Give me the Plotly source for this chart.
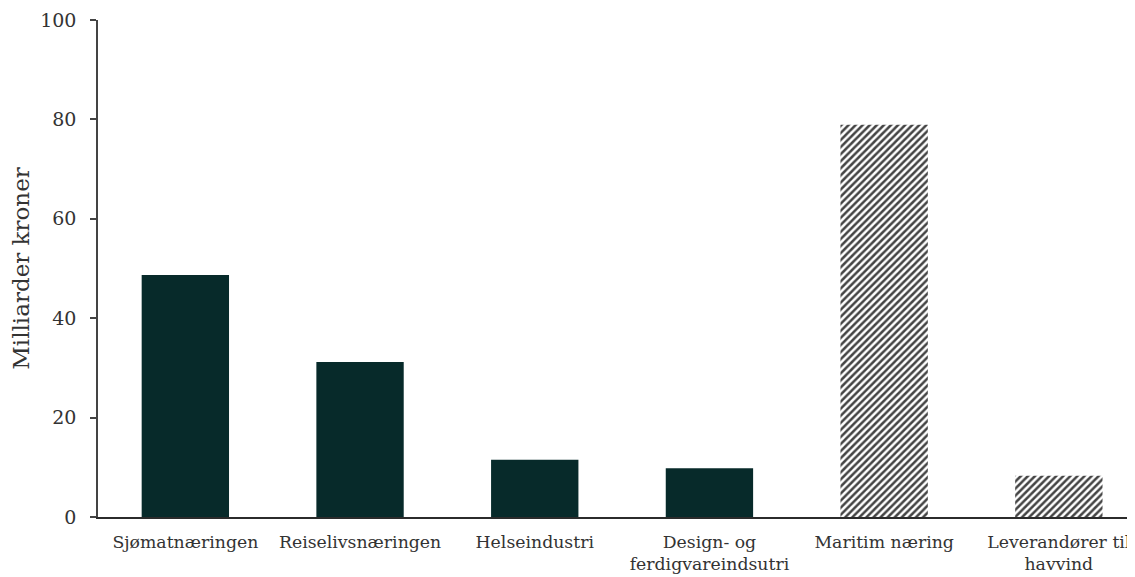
import plotly.graph_objects as go

categories = ["Sjømatnæringen", "Reiselivsnæringen", "Helseindustri",
              "Design- og<br>ferdigvareindsutri", "Maritim næring",
              "Leverandører til<br>havvind"]
values = [48.7, 31.2, 11.5, 9.8, 78.9, 8.3]
hatched = [False, False, False, False, True, True]

dark = "#072a2a"
fig = go.Figure()
fig.add_trace(go.Bar(
    x=list(range(len(categories))),
    y=values,
    width=0.5,
    marker=dict(
        color=["white" if h else dark for h in hatched],
        line=dict(width=0),
        pattern=dict(
            shape=["/" if h else "" for h in hatched],
            fgcolor=dark,
            fgopacity=1,
            bgcolor="white",
            size=5,
            solidity=0.5,
            fillmode="overlay",
        ),
    ),
    hoverinfo="x+y",
))

font_family = "Georgia, 'DejaVu Serif', serif"
fig.update_layout(
    width=1127, height=569,
    margin=dict(l=90, r=0, t=12, b=60, autoexpand=False),
    plot_bgcolor="white", paper_bgcolor="white",
    showlegend=False,
    font=dict(family=font_family, color="#333333"),
    bargap=0.5,
)
fig.update_xaxes(
    tickmode="array",
    tickvals=list(range(len(categories))),
    ticktext=categories,
    range=[-0.5, 5.436],
    showline=True, linecolor="#2b2b2b", linewidth=2,
    ticks="", showgrid=False, zeroline=False,
    automargin=False,
    ticklabelstandoff=8,
    tickfont=dict(size=17.3, family=font_family, color="#333333"),
)
fig.update_yaxes(
    range=[0, 100],
    tickvals=[0, 20, 40, 60, 80, 100],
    showline=True, linecolor="#444444", linewidth=1.5,
    ticks="outside", ticklen=6, tickcolor="#444444", tickwidth=1.5,
    showgrid=False, zeroline=False,
    automargin=False,
    ticklabelstandoff=10,
    tickfont=dict(size=19, family=font_family, color="#333333"),
    title=dict(text="Milliarder kroner", font=dict(size=23, family=font_family, color="#333333"), standoff=12),
)

fig.write_html("out.html")
